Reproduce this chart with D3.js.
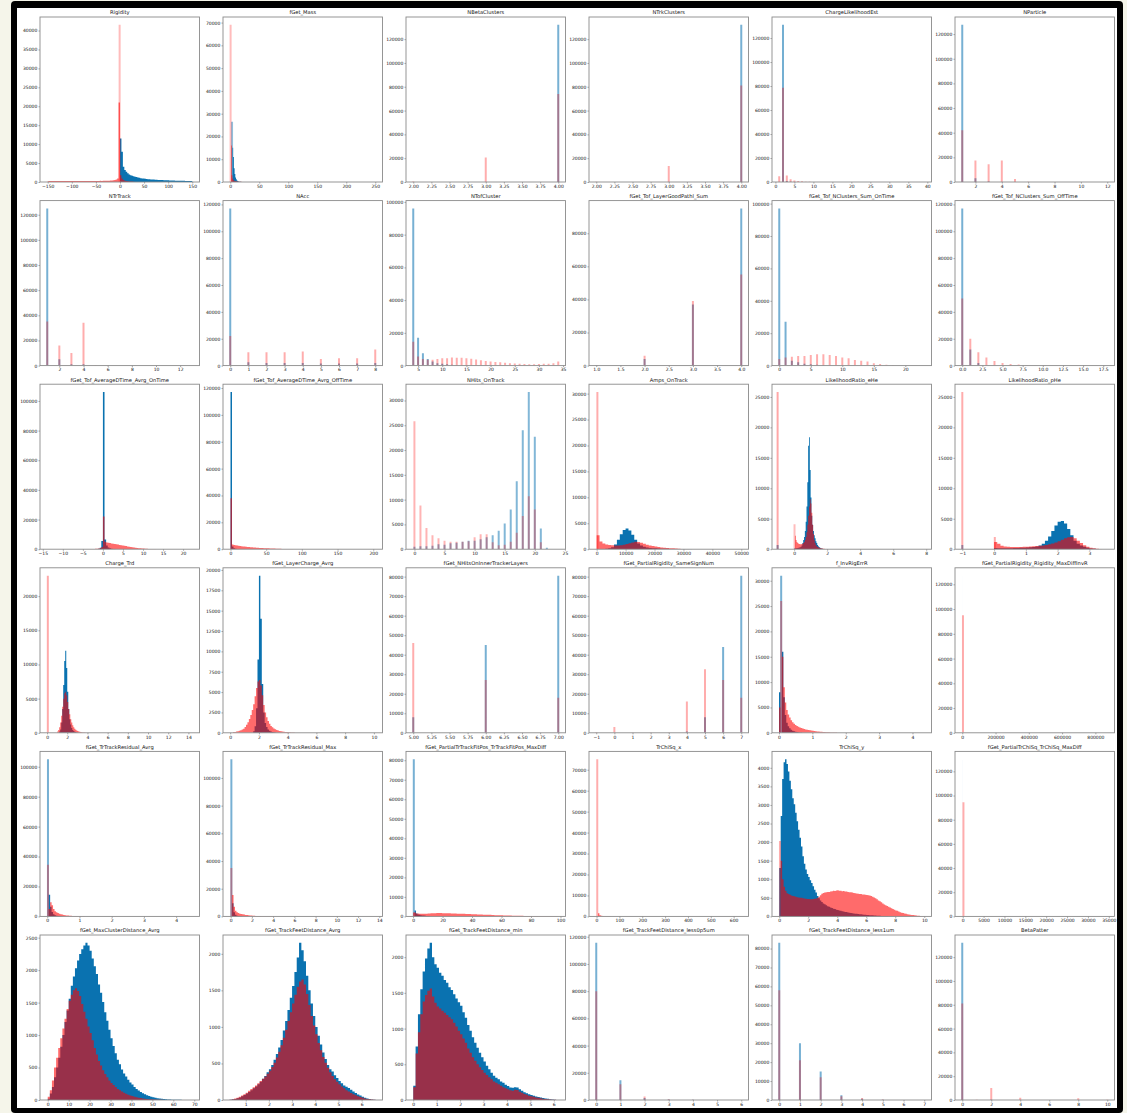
<!DOCTYPE html>
<html>
<head>
<meta charset="utf-8">
<script src="https://cdn.jsdelivr.net/npm/d3@7"></script>
<style>
  body { margin: 0; background: #f5f5ea; }
  svg { display: block; }
  text { font-family: "DejaVu Sans", sans-serif; }
</style>
</head>
<body>
<svg id="fig" width="1127" height="1113"></svg>
<script>
// ---- tick sets ----
const yt120k = [0, 20000, 40000, 60000, 80000, 100000, 120000];
const yt100k = [0, 20000, 40000, 60000, 80000, 100000];
const yt80k10 = [0, 10000, 20000, 30000, 40000, 50000, 60000, 70000, 80000];
const yt30k = [0, 5000, 10000, 15000, 20000, 25000, 30000];
const yt25k = [0, 5000, 10000, 15000, 20000, 25000];
const xt2to4 = [2, 2.25, 2.5, 2.75, 3, 3.25, 3.5, 3.75, 4];

// ---- row 1 ----
const rigidityXt = [-150, -100, -50, 0, 50, 100, 150];
const rigidityYt = [0, 5000, 10000, 15000, 20000, 25000, 30000, 35000, 40000];
const rigidityBlue = [11500, 8000, 4000, 3200, 2700, 2300, 2000, 1800, 1650, 1550, 1400, 1300, 1200, 1100, 1000, 950, 900, 850, 800, 750,
  720, 690, 660, 630, 600, 580, 560, 540, 520, 500, 480, 460, 450, 430, 420, 400, 390, 380, 360, 350, 340, 330, 320, 310, 300, 290, 285, 280, 270, 260];
const rigidityRed = [230, 250, 240, 260, 250, 240, 260, 250, 270, 250, 260, 250, 240, 260, 270, 250, 260, 250, 240, 250,
  260, 270, 250, 260, 250, 270, 260, 250, 260, 270, 280, 260, 270, 280, 290, 280, 300, 290, 300, 320,
  330, 340, 360, 380, 400, 450, 520, 650, 900, 21000, 1800, 900, 500, 350, 250, 200, 150, 120, 100, 80];
const rigiditySpike = [41500];

const massXt = [0, 50, 100, 150, 200, 250];
const massYt = [0, 10000, 20000, 30000, 40000, 50000, 60000, 70000];
const massBlueSpike = [26500];
const massBlue = [15000, 11000, 6000, 3500, 2000, 1200, 700, 400, 250, 150, 100, 60, 40, 25, 15, 10];
const massRedSpike = [69000];
const massRed = [16000, 3000, 1500, 900, 600, 450, 350, 280, 220, 180, 150, 120, 100, 80, 60, 50, 40, 30, 25, 20, 15, 10];

const nBetaX = [2, 3, 4];
const nBetaBlue = [0, 0, 132000];
const nBetaRed = [400, 20500, 74000];
const nTrkBlue = [0, 0, 132000];
const nTrkRed = [300, 13500, 81000];

const chargeLikeXt = [0, 5, 10, 15, 20, 25, 30, 35, 40];
const chargeLikeX = [1, 2, 3, 4, 5, 6, 7, 8, 9, 10, 11, 12];
const chargeLikeBlue = [0, 131000, 800, 200, 0, 0, 0, 0, 0, 0, 0, 0];
const chargeLikeRed = [4800, 78500, 5500, 2200, 1200, 900, 600, 300, 200, 100, 100, 80];

const nParticleXt = [2, 4, 6, 8, 10, 12];
const nParticleX = [1, 2, 3, 4, 5, 6, 7, 8];
const nParticleBlue = [127500, 3000, 500, 100, 0, 0, 0, 0];
const nParticleRed = [42000, 17500, 14500, 17500, 2500, 300, 100, 50];

// ---- row 2 ----
const nTrTrackXt = [2, 4, 6, 8, 10, 12];
const nTrTrackX = [1, 2, 3, 4, 5, 6];
const nTrTrackBlue = [125000, 5000, 1000, 1000, 0, 0];
const nTrTrackRed = [35000, 16000, 10000, 34000, 500, 200];

const nAccXt = [0, 1, 2, 3, 4, 5, 6, 7, 8];
const nAccX = [0, 1, 2, 3, 4, 5, 6, 7, 8];
const nAccBlue = [117000, 2500, 2000, 2000, 2000, 1500, 1500, 1500, 2000];
const nAccRed = [22000, 10000, 10000, 10000, 10500, 5000, 5500, 5500, 12000];

const nTofXt = [5, 10, 15, 20, 25, 30, 35];
const nTofX = [4, 5, 6, 7, 8, 9, 10, 11, 12, 13, 14, 15, 16, 17, 18, 19, 20, 21, 22, 23, 24, 25, 26, 27, 28, 29, 30, 31, 32, 33, 34];
const nTofBlue = [96000, 17000, 7500, 4000, 2500, 1500, 1200, 800, 500, 300, 200, 150, 100, 50, 30, 20, 10, 0, 0, 0, 0, 0, 0, 0, 0, 0, 0, 0, 0, 0, 0];
const nTofRed = [14500, 5500, 4000, 3500, 3500, 4000, 4500, 4500, 5000, 4800, 4800, 4500, 4200, 3800, 3200, 2800, 2500, 2200, 2000, 1800,
  1500, 1300, 1100, 1000, 900, 900, 1000, 1100, 1200, 1500, 2500];

const goodPathXt = [1, 1.5, 2, 2.5, 3, 3.5, 4];
const goodPathYt = [0, 20000, 40000, 60000, 80000];
const goodPathX = [1, 2, 3, 4];
const goodPathBlue = [200, 4000, 37000, 95000];
const goodPathRed = [300, 6000, 39000, 55000];

const onTimeXt = [0, 5, 10, 15, 20];
const onTimeX = [0, 1, 2, 3, 4, 5, 6, 7, 8, 9, 10, 11, 12, 13, 14, 15, 16, 17, 18, 19, 20, 21, 22];
const onTimeBlue = [97000, 27000, 3000, 2000, 1200, 800, 500, 300, 200, 100, 50, 30, 20, 10, 0, 0, 0, 0, 0, 0, 0, 0, 0];
const onTimeRed = [4000, 5000, 5500, 6000, 6000, 6500, 7000, 7000, 6500, 6000, 5000, 4500, 3500, 3000, 2500, 1500, 1000, 600, 400, 200, 100, 50, 30];

const offTimeXt = [0, 2.5, 5, 7.5, 10, 12.5, 15, 17.5];
const offTimeX = [0, 1, 2, 3, 4, 5, 6, 7, 8, 9, 10, 11, 12, 13, 14, 15, 16, 17, 18];
const offTimeBlue = [117000, 12000, 2000, 500, 200, 100, 50, 20, 10, 0, 0, 0, 0, 0, 0, 0, 0, 0, 0];
const offTimeRed = [50000, 20000, 10000, 6000, 3500, 2000, 1200, 800, 500, 300, 200, 100, 80, 50, 30, 20, 10, 5, 5];

// ---- row 3 ----
const dtOnXt = [-15, -10, -5, 0, 5, 10, 15, 20];
const dtOnBlue = [300, 1000, 5500, 106000, 6500, 2500, 1200, 600, 300, 150, 80];
const dtOnRed = [100, 150, 200, 250, 300, 400, 600, 1500, 22000, 5000, 4500, 4300, 4100, 3900, 3700, 3500, 3300, 3100,
  2900, 2700, 2500, 2300, 2100, 1900, 1700, 1500, 1300, 1150, 1000, 850, 700, 600, 500, 400, 300, 250, 200, 150, 100, 80, 60, 40, 20];

const dtOffXt = [0, 50, 100, 150, 200];
const dtOffBlue = [117000, 2000, 800, 400, 200, 100, 50];
const dtOffRed = [38000, 3500, 3200, 3000, 2800, 2600, 2400, 2250, 2100, 2000, 1850, 1700, 1600, 1500, 1400, 1300, 1200, 1100, 1000,
  950, 900, 850, 800, 750, 700, 650, 600, 550, 500, 450, 400, 350, 300, 250, 220, 190, 160, 130, 110, 90, 70, 60, 50, 40, 30, 20, 10];

const nHitsXt = [0, 5, 10, 15, 20, 25];
const nHitsX = [0, 1, 2, 3, 4, 5, 6, 7, 8, 9, 10, 11, 12, 13, 14, 15, 16, 17, 18, 19, 20, 21, 22];
const nHitsBlue = [500, 600, 600, 700, 1000, 900, 1200, 1300, 1500, 1700, 1700, 2000, 2400, 2800, 3700, 5200, 8000, 13700, 24000, 31700, 22700, 4200, 300];
const nHitsRed = [25800, 8800, 4300, 2800, 2200, 1700, 1500, 1500, 1500, 1600, 2400, 3000, 3000, 1400, 800, 900, 1500, 3300, 6700, 10700, 8000, 1400, 0];

const ampsXt = [0, 10000, 20000, 30000, 40000, 50000];
const ampsBlue = [0, 20, 50, 100, 200, 400, 900, 1800, 2900, 3700, 4000, 3600, 2800, 1800, 1100, 700, 450, 320, 250, 200,
  160, 130, 110, 90, 75, 60, 50, 40, 35, 30, 25, 20, 15, 12, 10, 8, 6, 5, 4, 3];
const ampsRed = [2700, 1500, 1100, 900, 800, 750, 700, 700, 750, 850, 1000, 1150, 1300, 1450, 1400, 1250, 1050, 880, 720, 600,
  500, 420, 350, 290, 240, 200, 160, 120, 90, 60, 40, 20];
const ampsSpikeX = [250];
const ampsSpike = [30300];

const lrXt = [0, 2, 4, 6, 8];
const lrMinusOne = [-1];
const lrEBlueSpike = [700];
const lrERedSpike = [25800];
const lrEBlue = [100, 120, 150, 170, 200, 230, 260, 300, 400, 600, 1000, 1500, 2000, 3000, 4500, 7000, 11000, 17000, 18400, 13000,
  8500, 5500, 4000, 3000, 2300, 1800, 1300, 1000, 700, 500, 350, 250, 150, 100, 60, 40, 20];
const lrERedZeroX = [0.025];
const lrERedZero = [4100];
const lrERed = [2200, 1500, 1200, 1000, 900, 850, 800, 800, 850, 900, 1000, 1200, 1500, 2000, 2800, 4000, 5500, 7000, 8200,
  7500, 6000, 4000, 2500, 1500, 1000, 700, 500, 400, 300, 250, 200, 150, 120, 100, 80, 60, 50, 40, 30, 20];

const lrPXt = [-1, 0, 1, 2, 3];
const lrPBlue = [200, 150, 150, 150, 160, 170, 180, 200, 220, 250, 280, 320, 380, 450, 600, 900, 1400, 2100, 3000, 3900,
  4500, 4650, 4200, 3300, 2300, 1400, 900, 600, 400, 250, 120, 60, 30];
const lrPRed = [1200, 900, 550, 450, 400, 380, 370, 370, 380, 400, 420, 450, 480, 520, 560, 620, 700, 800, 950, 1100,
  1300, 1550, 1800, 1950, 2000, 1800, 1400, 1000, 650, 400, 250, 150, 80, 40];
const lrPRedZeroX = [0.023];
const lrPRedZero = [2000];

// ---- row 4 ----
const trdXt = [0, 2, 4, 6, 8, 10, 12, 14];
const trdYt = [0, 5000, 10000, 15000, 20000];
const trdSpikeX = [0.075];
const trdSpike = [23000];
const trdBlue = [200, 500, 1500, 3500, 7000, 10500, 12000, 9500, 6000, 3500, 2000, 1200, 700, 400, 250, 150, 100, 60, 40, 20];
const trdRed = [200, 400, 800, 1500, 2500, 3800, 5000, 5800, 6000, 5500, 4500, 3500, 2700, 2000, 1500, 1100, 800, 600, 450, 350,
  250, 200, 150, 100, 80, 60, 40, 30, 20, 10];

const layerChXt = [0, 2, 4, 6, 8, 10];
const layerChYt = [0, 2500, 5000, 7500, 10000, 12500, 15000, 17500, 20000];
const layerChBlue = [200, 800, 3000, 9000, 19300, 14000, 6000, 2500, 1200, 700, 400, 250, 150, 100, 60, 40, 20];
const layerChRed = [100, 100, 150, 200, 250, 300, 400, 500, 700, 1000, 1300, 1700, 2200, 2800, 3500, 4500, 5500, 6300, 6500, 5800,
  4600, 3400, 2500, 1900, 1450, 1100, 850, 680, 540, 430, 350, 280, 230, 190, 160, 130, 110, 90, 75, 60, 50, 40, 30, 20, 10];

const innerXt = [5, 5.25, 5.5, 5.75, 6, 6.25, 6.5, 6.75, 7];
const innerX = [5, 6, 7];
const innerBlue = [8000, 45000, 80500];
const innerRed = [46000, 27000, 18000];

const sameSignXt = [-1, 0, 1, 2, 3, 4, 5, 6, 7];
const sameSignX = [-1, 0, 1, 2, 3, 4, 5, 6, 7];
const sameSignBlue = [0, 0, 0, 0, 0, 700, 8000, 44000, 80500];
const sameSignRed = [300, 3000, 100, 100, 200, 16000, 32500, 27000, 18000];

const invRigXt = [0, 1, 2, 3, 4];
const invRigSpikeX = [0.065];
const invRigBlueSpike = [31000];
const invRigRedSpike = [26000];
const invRigBlue = [8000, 0, 16000, 7000, 3500, 2000, 1300, 900, 600, 400, 300, 200, 150, 100, 70, 50, 30, 20];
const invRigRed = [5000, 0, 15000, 9000, 6000, 4500, 3600, 3000, 2500, 2100, 1800, 1550, 1350, 1200, 1050, 950, 850, 750, 670, 600,
  540, 480, 430, 380, 340, 300, 270, 240, 210, 190, 170, 150, 130, 110, 95, 80, 70, 60, 50, 40, 30, 25, 20, 15, 10];

const maxDiffInvRXt = [0, 200000, 400000, 600000, 800000];
const maxDiffInvRBlue = [127000];
const maxDiffInvRRedX = [4360];
const maxDiffInvRRed = [95000];

// ---- row 5 ----
const residAvgXt = [0, 1, 2, 3, 4];
const residAvgSpikeX = [0.0225];
const residAvgBlueSpike = [105000];
const residAvgRedSpike = [34500];
const residAvgBlue = [14500, 6500, 3000, 1500, 800, 400, 200, 100, 50];
const residAvgRed = [5000, 9500, 7500, 5000, 3500, 2800, 2200, 1800, 1500, 1200, 1000, 800, 650, 550, 450, 400, 350, 300, 250,
  200, 180, 150, 120, 100, 80];

const residMaxXt = [0, 2, 4, 6, 8, 10, 12, 14];
const residMaxSpikeX = [0.068];
const residMaxBlueSpike = [113500];
const residMaxRedSpike = [35000];
const residMaxBlue = [9500, 3000, 1200, 500, 200, 100, 50];
const residMaxRed = [15500, 7000, 4000, 3000, 2500, 2000, 1700, 1500, 1300, 1100, 950, 800, 700, 600, 500, 420, 350, 300, 250,
  200, 170, 140, 110, 90, 70, 50, 40, 30, 20];

const fitPosXt = [0, 20, 40, 60, 80, 100];
const fitPosSpikeX = [0.49];
const fitPosBlueSpike = [80500];
const fitPosBlue = [3000, 1500, 1000, 800, 600, 500, 400, 300, 200, 150, 100];
const fitPosRed = [2000, 1500, 1300, 1300, 1400, 1500, 1600, 1650, 1700, 1700, 1650, 1600, 1550, 1500, 1450, 1400, 1350, 1300, 1250, 1200,
  1150, 1100, 1000, 950, 900, 850, 800, 700, 650, 600, 550, 500, 450, 400, 380, 350, 300, 280, 250, 220,
  200, 180, 160, 140, 120, 100, 80, 60, 40, 20];

const chiXXt = [0, 100, 200, 300, 400, 500, 600];
const chiXYt = [0, 10000, 20000, 30000, 40000, 50000, 60000, 70000];
const chiXSpikeX = [3.15];
const chiXSpike = [75000];
const chiXRed = [1500, 600, 300, 200, 120, 80, 50, 30, 20, 10];

const chiYXt = [0, 2, 4, 6, 8, 10];
const chiYYt = [0, 500, 1000, 1500, 2000, 2500, 3000, 3500, 4000];
const chiYBlue = [1300, 2700, 3700, 4150, 4230, 4100, 3900, 3650, 3420, 3180, 3020, 2790, 2560, 2330, 2120, 1880, 1620, 1420, 1260, 1140,
  1060, 970, 900, 810, 720, 640, 550, 490, 430, 390, 350, 325, 300, 275, 262, 240, 228, 208, 196, 182,
  170, 158, 152, 138, 132, 120, 116, 104, 100, 92, 85, 80, 74, 70, 64, 60, 55, 50, 46, 42,
  40, 36, 33, 30, 28, 25, 22, 20, 18, 16, 14, 12, 10, 9, 8, 7, 6, 5, 4, 3];
const chiYRedSpikeX = [0.05];
const chiYRedSpike = [2030];
const chiYRed = [1500, 1000, 800, 690, 620, 600, 580, 565, 550, 540, 530, 515, 510, 505, 500, 490, 480, 478, 470,
  468, 460, 462, 468, 472, 480, 500, 530, 570, 610, 630, 645, 650, 660, 658, 672, 680, 690, 686, 700,
  705, 692, 688, 680, 684, 670, 668, 660, 650, 652, 640, 630, 622, 618, 610, 600, 602, 590, 588, 580,
  578, 570, 560, 548, 530, 510, 490, 460, 430, 410, 380, 350, 320, 300, 280, 260, 240, 220, 200, 180,
  160, 150, 130, 115, 100, 90, 80, 70, 60, 50, 45, 40, 35, 30, 25, 20, 15, 10, 6, 3];

const chiMaxDiffXt = [0, 5000, 10000, 15000, 20000, 25000, 30000, 35000];
const chiMaxDiffBlue = [130000];
const chiMaxDiffRedX = [173];
const chiMaxDiffRed = [94500];

// ---- row 6 ----
const clusterXt = [0, 10, 20, 30, 40, 50, 60, 70];
const clusterYt = [0, 500, 1000, 1500, 2000, 2500];
const clusterBlue = [20, 100, 200, 350, 500, 650, 820, 1000, 1200, 1380, 1560, 1760, 1900, 2030, 2150, 2250, 2320, 2380, 2420, 2380,
  2300, 2180, 2060, 1940, 1780, 1650, 1510, 1350, 1220, 1080, 950, 830, 720, 620, 550, 470, 410, 360, 310, 270,
  240, 200, 170, 145, 125, 105, 90, 75, 62, 50, 42, 35, 28, 22, 18, 14, 11, 8, 6, 5, 4, 3, 2, 2, 1, 1, 1, 1];
const clusterRed = [50, 150, 300, 500, 650, 800, 950, 1100, 1250, 1400, 1530, 1620, 1690, 1720, 1680, 1600, 1480, 1360, 1250, 1130,
  1030, 920, 800, 700, 600, 530, 460, 400, 350, 300, 260, 230, 200, 170, 150, 130, 110, 95, 80, 70,
  60, 50, 42, 35, 30, 25, 20, 16, 12, 10, 8, 6, 4, 3, 2];

const feetAvgXt = [1, 2, 3, 4, 5, 6];
const feetYt = [0, 500, 1000, 1500, 2000];
const feetAvgBlue = [5, 10, 15, 25, 35, 50, 70, 90, 110, 135, 160, 185, 215, 250, 290, 330, 380, 420, 480, 550,
  630, 720, 820, 950, 1080, 1230, 1400, 1560, 1750, 1950, 2150, 2050, 1900, 1700, 1500, 1320, 1150, 1000, 880, 760,
  650, 560, 480, 420, 390, 340, 300, 260, 230, 200, 180, 165, 140, 115, 95, 75, 60, 45, 32, 22, 14, 8, 4];
const feetAvgRed = [5, 10, 20, 30, 45, 60, 80, 100, 125, 150, 175, 200, 230, 260, 290, 320, 360, 400, 450, 510,
  580, 660, 750, 850, 960, 1080, 1200, 1320, 1440, 1550, 1620, 1650, 1580, 1450, 1300, 1150, 1020, 900, 780, 680,
  590, 510, 440, 380, 330, 285, 250, 215, 185, 160, 135, 115, 95, 80, 65, 50, 40, 30, 22, 15, 10, 6, 3];

const feetMinXt = [0, 1, 2, 3, 4, 5, 6];
const feetMinBlue = [200, 750, 1200, 1550, 1800, 1980, 2120, 2200, 2000, 1900, 1850, 1780, 1740, 1680, 1640, 1580, 1540, 1480, 1420, 1370,
  1320, 1230, 1150, 1050, 970, 880, 800, 730, 660, 600, 540, 480, 430, 380, 340, 310, 290, 260, 240, 215,
  195, 175, 170, 180, 175, 150, 130, 110, 95, 80, 70, 60, 50, 42, 35, 28, 22, 17, 12, 8, 4];
const feetMinRed = [180, 650, 950, 1200, 1380, 1470, 1530, 1560, 1450, 1360, 1310, 1280, 1250, 1220, 1190, 1160, 1130, 1080, 1030, 970,
  920, 860, 800, 720, 660, 600, 550, 500, 460, 420, 380, 350, 320, 290, 260, 240, 220, 200, 180, 165,
  150, 135, 130, 145, 140, 115, 100, 85, 72, 60, 52, 44, 36, 30, 24, 19, 15, 11, 8, 5, 3];

const less05Xt = [0, 1, 2, 3, 4, 5, 6];
const less05X = [0, 1, 2, 3, 4, 5, 6];
const less05Blue = [115500, 14500, 1500, 300, 100, 30, 10];
const less05Red = [80000, 11500, 2500, 600, 200, 50, 20];

const less1Xt = [0, 1, 2, 3, 4, 5, 6, 7];
const less1X = [0, 1, 2, 3, 4, 5, 6, 7];
const less1Blue = [83000, 30000, 15000, 2500, 600, 100, 30, 10];
const less1Red = [58000, 21000, 12000, 2000, 1000, 200, 50, 20];

const betaPatXt = [0, 2, 4, 6, 8, 10];
const betaPatX = [0, 1, 2, 4, 8, 10];
const betaPatBlue = [132000, 0, 300, 100, 100, 50];
const betaPatRed = [81000, 200, 10000, 1800, 1500, 200];

// a histogram with equal bins starting at `start`, or isolated bars centred on given values
const hist = (cls, start, width, counts) => ({ cls, start, width, counts });
const bars = (cls, xs, width, counts) => ({ cls, xs, width, counts });

const panels = [
  { title: 'Rigidity', xlim: [-166, 165], xt: rigidityXt, yt: rigidityYt, series: [
    hist('blue', 0, 3, rigidityBlue), hist('red', -150, 3, rigidityRed), bars('red', [-0.75], 1.5, rigiditySpike)] },
  { title: 'fGet_Mass', xlim: [-12.5, 262.5], xt: massXt, yt: massYt, series: [
    bars('blue', [3.1], 1.25, massBlueSpike), hist('blue', 3.75, 1.25, massBlue),
    bars('red', [0.6], 1.25, massRedSpike), hist('red', 1.25, 1.25, massRed)] },
  { title: 'NBetaClusters', xlim: [1.9, 4.1], xt: xt2to4, yt: yt120k, series: [
    bars('blue', nBetaX, 0.02, nBetaBlue), bars('red', nBetaX, 0.02, nBetaRed)] },
  { title: 'NTrkClusters', xlim: [1.9, 4.1], xt: xt2to4, yt: yt120k, series: [
    bars('blue', nBetaX, 0.02, nTrkBlue), bars('red', nBetaX, 0.02, nTrkRed)] },
  { title: 'ChargeLikelihoodEst', xlim: [-0.9, 41.1], xt: chargeLikeXt, yt: yt120k, series: [
    bars('blue', chargeLikeX, 0.39, chargeLikeBlue), bars('red', chargeLikeX, 0.39, chargeLikeRed)] },
  { title: 'NParticle', xlim: [0.45, 12.55], xt: nParticleXt, yt: yt120k, series: [
    bars('blue', nParticleX, 0.11, nParticleBlue), bars('red', nParticleX, 0.11, nParticleRed)] },

  { title: 'NTrTrack', xlim: [0.4, 13.6], xt: nTrTrackXt, yt: yt120k, series: [
    bars('blue', nTrTrackX, 0.12, nTrTrackBlue), bars('red', nTrTrackX, 0.12, nTrTrackRed)] },
  { title: 'NAcc', xlim: [-0.4, 8.4], xt: nAccXt, yt: yt120k, series: [
    bars('blue', nAccX, 0.08, nAccBlue), bars('red', nAccX, 0.08, nAccRed)] },
  { title: 'NTofCluster', xlim: [2.5, 35.5], xt: nTofXt, yt: yt100k, series: [
    bars('blue', nTofX, 0.3, nTofBlue), bars('red', nTofX, 0.3, nTofRed)] },
  { title: 'fGet_Tof_LayerGoodPathl_Sum', xlim: [0.85, 4.15], xt: goodPathXt, yt: goodPathYt, series: [
    bars('blue', goodPathX, 0.03, goodPathBlue), bars('red', goodPathX, 0.03, goodPathRed)] },
  { title: 'fGet_Tof_NClusters_Sum_OnTime', xlim: [-1.15, 24.15], xt: onTimeXt, yt: yt100k, series: [
    bars('blue', onTimeX, 0.23, onTimeBlue), bars('red', onTimeX, 0.23, onTimeRed)] },
  { title: 'fGet_Tof_NClusters_Sum_OffTime', xlim: [-0.9, 18.9], xt: offTimeXt, yt: yt120k, series: [
    bars('blue', offTimeX, 0.18, offTimeBlue), bars('red', offTimeX, 0.18, offTimeRed)] },

  { title: 'fGet_Tof_AverageDTime_Avrg_OnTime', xlim: [-15.7, 24.1], xt: dtOnXt, yt: yt100k, series: [
    hist('blue', -1.2, 0.4, dtOnBlue), hist('red', -3.2, 0.4, dtOnRed)] },
  { title: 'fGet_Tof_AverageDTime_Avrg_OffTime', xlim: [-10.5, 213], xt: dtOffXt, yt: yt120k, series: [
    hist('blue', 0, 2.1, dtOffBlue), hist('red', 0, 2.1, dtOffRed)] },
  { title: 'NHits_OnTrack', xlim: [-1.4, 25.1], xt: nHitsXt, yt: yt30k, series: [
    bars('blue', nHitsX, 0.22, nHitsBlue), bars('red', nHitsX, 0.22, nHitsRed)] },
  { title: 'Amps_OnTrack', xlim: [-2650, 52500], xt: ampsXt, yt: yt30k, series: [
    hist('blue', 0, 1000, ampsBlue), hist('red', 0, 1000, ampsRed), bars('red', ampsSpikeX, 500, ampsSpike)] },
  { title: 'LikelihoodRatio_eHe', xlim: [-1.34, 8.32], xt: lrXt, yt: yt25k, series: [
    bars('blue', lrMinusOne, 0.094, lrEBlueSpike), hist('blue', 0, 0.05, lrEBlue),
    bars('red', lrMinusOne, 0.094, lrERedSpike), bars('red', lrERedZeroX, 0.05, lrERedZero), hist('red', 0.05, 0.05, lrERed)] },
  { title: 'LikelihoodRatio_pHe', xlim: [-1.23, 3.79], xt: lrPXt, yt: yt25k, series: [
    bars('blue', lrMinusOne, 0.046, lrEBlueSpike), hist('blue', 0, 0.1, lrPBlue),
    bars('red', lrMinusOne, 0.046, lrERedSpike), hist('red', 0, 0.1, lrPRed), bars('red', lrPRedZeroX, 0.046, lrPRedZero)] },

  { title: 'Charge_Trd', xlim: [-0.7, 15.1], xt: trdXt, yt: trdYt, series: [
    hist('blue', 1.2, 0.1, trdBlue), bars('red', trdSpikeX, 0.15, trdSpike), hist('red', 1.0, 0.1, trdRed)] },
  { title: 'fGet_LayerCharge_Avrg', xlim: [-0.5, 10.6], xt: layerChXt, yt: layerChYt, series: [
    hist('blue', 1.6, 0.1, layerChBlue), hist('red', 0.2, 0.1, layerChRed)] },
  { title: 'fGet_NHitsOnInnerTrackerLayers', xlim: [4.9, 7.1], xt: innerXt, yt: yt80k10, series: [
    bars('blue', innerX, 0.02, innerBlue), bars('red', innerX, 0.02, innerRed)] },
  { title: 'fGet_PartialRigidity_SameSignNum', xlim: [-1.4, 7.4], xt: sameSignXt, yt: yt80k10, series: [
    bars('blue', sameSignX, 0.08, sameSignBlue), bars('red', sameSignX, 0.08, sameSignRed)] },
  { title: 'f_InvRigErrR', xlim: [-0.21, 4.57], xt: invRigXt, yt: yt30k, series: [
    hist('blue', 0, 0.0435, invRigBlue), bars('blue', invRigSpikeX, 0.0435, invRigBlueSpike),
    hist('red', 0, 0.0435, invRigRed), bars('red', invRigSpikeX, 0.0435, invRigRedSpike)] },
  { title: 'fGet_PartialRigidity_Rigidity_MaxDiffInvR', xlim: [-43600, 915000], xt: maxDiffInvRXt, yt: yt120k, series: [
    hist('blue', 0, 60, maxDiffInvRBlue), bars('red', maxDiffInvRRedX, 8720, maxDiffInvRRed)] },

  { title: 'fGet_TrTrackResidual_Avrg', xlim: [-0.225, 4.725], xt: residAvgXt, yt: yt100k, series: [
    bars('blue', residAvgSpikeX, 0.045, residAvgBlueSpike), hist('blue', 0.045, 0.045, residAvgBlue),
    bars('red', residAvgSpikeX, 0.045, residAvgRedSpike), hist('red', 0.045, 0.045, residAvgRed)] },
  { title: 'fGet_TrTrackResidual_Max', xlim: [-0.72, 14.3], xt: residMaxXt, yt: yt100k, series: [
    bars('blue', residMaxSpikeX, 0.136, residMaxBlueSpike), hist('blue', 0.136, 0.136, residMaxBlue),
    bars('red', residMaxSpikeX, 0.136, residMaxRedSpike), hist('red', 0.136, 0.136, residMaxRed)] },
  { title: 'fGet_PartialTrTrackFitPos_TrTrackFitPos_MaxDiff', xlim: [-4.8, 103.4], xt: fitPosXt, yt: yt80k10, series: [
    bars('blue', fitPosSpikeX, 0.98, fitPosBlueSpike), hist('blue', 0.98, 0.98, fitPosBlue), hist('red', 0, 1.97, fitPosRed)] },
  { title: 'TrChiSq_x', xlim: [-33, 665], xt: chiXXt, yt: chiXYt, series: [
    bars('red', chiXSpikeX, 6.3, chiXSpike), hist('red', 6.3, 6.3, chiXRed)] },
  { title: 'TrChiSq_y', xlim: [-0.5, 10.5], xt: chiYXt, yt: chiYYt, series: [
    hist('blue', 0, 0.1, chiYBlue), bars('red', chiYRedSpikeX, 0.1, chiYRedSpike), hist('red', 0.1, 0.1, chiYRed)] },
  { title: 'fGet_PartialTrChiSq_TrChiSq_MaxDiff', xlim: [-1850, 36370], xt: chiMaxDiffXt, yt: yt120k, series: [
    hist('blue', 0, 5, chiMaxDiffBlue), bars('red', chiMaxDiffRedX, 346, chiMaxDiffRed)] },

  { title: 'fGet_MaxClusterDistance_Avrg', xlim: [-3.7, 72.5], xt: clusterXt, yt: clusterYt, series: [
    hist('blue', 0, 1, clusterBlue), hist('red', 0, 1, clusterRed)] },
  { title: 'fGet_TrackFeetDistance_Avrg', xlim: [0.02, 6.9], xt: feetAvgXt, yt: feetYt, series: [
    hist('blue', 0.3, 0.1, feetAvgBlue), hist('red', 0.3, 0.1, feetAvgRed)] },
  { title: 'fGet_TrackFeetDistance_min', xlim: [-0.31, 6.5], xt: feetMinXt, yt: feetYt, series: [
    hist('blue', 0, 0.1, feetMinBlue), hist('red', 0, 0.1, feetMinRed)] },
  { title: 'fGet_TrackFeetDistance_less0p5um', xlim: [-0.3, 6.3], xt: less05Xt, yt: yt120k, series: [
    bars('blue', less05X, 0.06, less05Blue), bars('red', less05X, 0.06, less05Red)] },
  { title: 'fGet_TrackFeetDistance_less1um', xlim: [-0.35, 7.35], xt: less1Xt, yt: yt80k10, series: [
    bars('blue', less1X, 0.07, less1Blue), bars('red', less1X, 0.07, less1Red)] },
  { title: 'BetaPatter', xlim: [-0.5, 10.5], xt: betaPatXt, yt: yt120k, series: [
    bars('blue', betaPatX, 0.1, betaPatBlue), bars('red', betaPatX, 0.1, betaPatRed)] }
];

// ---- drawing ----
const style = {
  blue: { fill: '#0a72b0', opacity: 1 },
  red: { fill: '#ff0000', opacity: 0.58 }
};
const grid = { left: 40, top: 17, dx: 183, dy: 183.6, w: 159.5, h: 165 };
const THIN = 2;   // isolated bars narrower than this are drawn this wide, but fainter

const svg = d3.select('#fig');
svg.append('rect').attr('x', 11).attr('y', 1).attr('width', 1112).attr('height', 1112)
  .attr('rx', 4).attr('fill', '#000');
svg.append('rect').attr('x', 17).attr('y', 8).attr('width', 1100).attr('height', 1100).attr('fill', '#fff');

const decimals = ticks => d3.max(ticks, t => (String(t).split('.')[1] || '').length);
const fmt = dec => v => (v < 0 ? '\u2212' : '') + Math.abs(v).toFixed(dec);

panels.forEach((p, i) => {
  const col = i % 6, row = Math.floor(i / 6);
  const g = svg.append('g')
    .attr('transform', `translate(${grid.left + col * grid.dx},${grid.top + row * grid.dy})`);

  const x = d3.scaleLinear().domain(p.xlim).range([0, grid.w]);
  const yMax = d3.max(p.series, s => d3.max(s.counts)) * 1.05;
  const y = d3.scaleLinear().domain([0, yMax]).range([grid.h, 0]);

  const clipId = `clip${i}`;
  g.append('clipPath').attr('id', clipId).append('rect')
    .attr('width', grid.w).attr('height', grid.h);

  const plot = g.append('g').attr('clip-path', `url(#${clipId})`);
  const ordered = p.series.filter(s => s.cls === 'blue').concat(p.series.filter(s => s.cls === 'red'));
  ordered.forEach(s => {
    const px = x(p.xlim[0] + s.width) - x(p.xlim[0]);
    let opacity = style[s.cls].opacity;
    let half = px / 2;
    if (s.xs && px < THIN) {
      opacity *= Math.max(0.45, px / 2.6);
      half = THIN / 2;
    }
    // one path per series so that neighbouring bins do not leave seams
    let d = '';
    s.counts.forEach((c, k) => {
      if (c <= 0) return;
      const xc = s.xs ? x(s.xs[k]) : x(s.start + (k + 0.5) * s.width);
      d += `M${xc - half},${y(0)}H${xc + half}V${y(c)}H${xc - half}Z`;
    });
    plot.append('path').attr('d', d)
      .attr('fill', style[s.cls].fill)
      .attr('fill-opacity', opacity);
  });

  const xAxis = d3.axisBottom(x).tickValues(p.xt).tickSize(1.5).tickPadding(1.2).tickFormat(fmt(decimals(p.xt)));
  const yAxis = d3.axisLeft(y).tickValues(p.yt).tickSize(1.5).tickPadding(1.2).tickFormat(fmt(decimals(p.yt)));

  const gx = g.append('g').attr('transform', `translate(0,${grid.h})`).call(xAxis);
  const gy = g.append('g').call(yAxis);
  [gx, gy].forEach(ax => {
    ax.select('.domain').remove();
    ax.selectAll('line').attr('stroke', '#666').attr('stroke-width', 0.6);
    ax.selectAll('text').attr('font-size', 4.5).attr('fill', '#111')
      .attr('font-family', '"DejaVu Sans", sans-serif');
  });

  g.append('rect').attr('width', grid.w).attr('height', grid.h)
    .attr('fill', 'none').attr('stroke', '#8a8a8a').attr('stroke-width', 0.9);

  g.append('text').attr('x', grid.w / 2).attr('y', -2.6)
    .attr('text-anchor', 'middle').attr('font-size', 5.2).attr('fill', '#111')
    .text(p.title);
});
</script>
</body>
</html>
